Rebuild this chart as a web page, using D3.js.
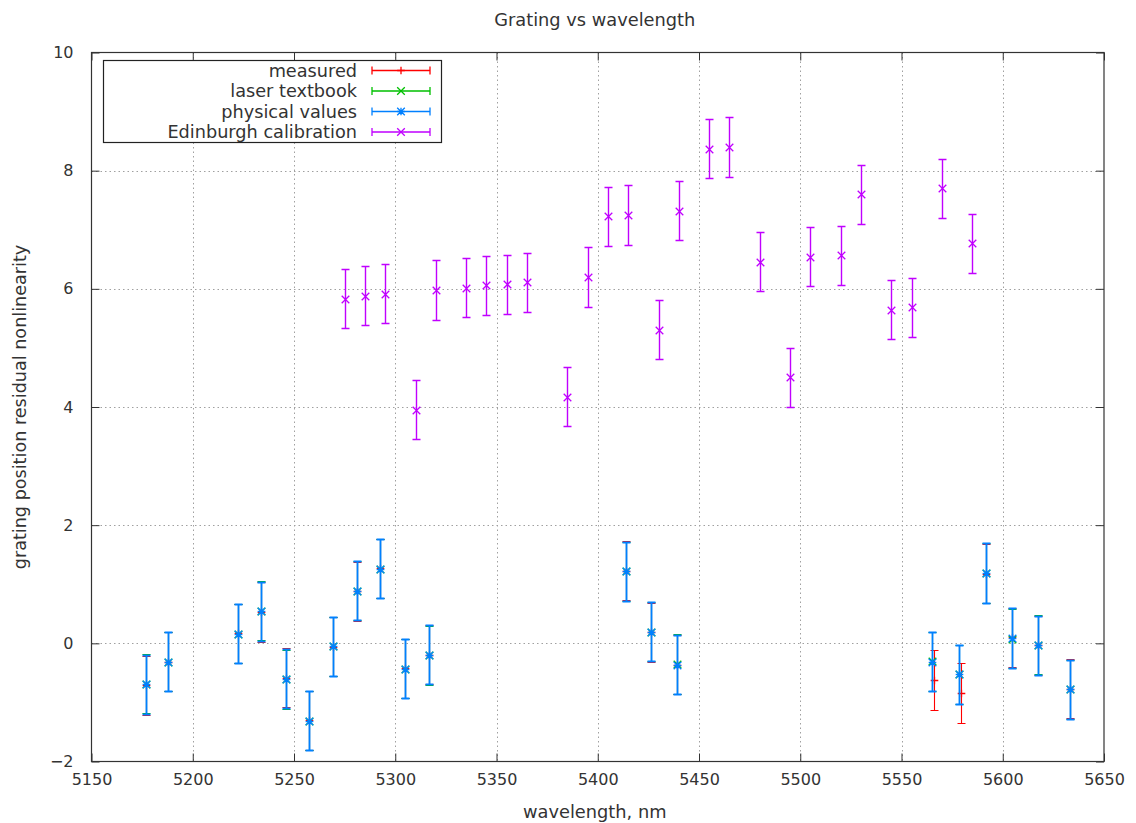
<!DOCTYPE html>
<html>
<head>
<meta charset="utf-8">
<script src="https://cdn.jsdelivr.net/npm/d3@7"></script>
<style>
  body { margin: 0; background: #fff; }
  text { font-family: "DejaVu Sans", sans-serif; fill: #333; }
</style>
</head>
<body>
<div id="chart"></div>
<script>
// lower cluster wavelengths (nm)
const wavelengths = [5176.7, 5188.0, 5222.1, 5233.6, 5245.9, 5257.2, 5269.4, 5280.9, 5292.4, 5304.6,
  5316.7, 5413.8, 5426.4, 5438.9, 5565.2, 5578.4, 5591.5, 5604.6, 5617.3, 5633.2];
const measuredX = [5176.7, 5188.0, 5222.1, 5233.6, 5245.9, 5257.2, 5269.4, 5280.9, 5292.4, 5304.6,
  5316.7, 5413.8, 5426.4, 5438.9, 5566.2, 5579.4, 5591.5, 5604.6, 5617.3, 5633.2];
const measured = [-0.71, -0.31, 0.17, 0.53, -0.58, -1.30, -0.06, 0.88, 1.27, -0.42,
  -0.19, 1.23, 0.19, -0.36, -0.62, -0.84, 1.18, 0.10, -0.03, -0.77];
const laserTextbook = [-0.68, -0.31, 0.16, 0.55, -0.61, -1.31, -0.05, 0.89, 1.26, -0.43,
  -0.20, 1.22, 0.20, -0.35, -0.30, -0.52, 1.19, 0.08, -0.02, -0.78];
const physicalValues = [-0.69, -0.31, 0.16, 0.54, -0.60, -1.31, -0.05, 0.89, 1.26, -0.43,
  -0.19, 1.22, 0.20, -0.36, -0.31, -0.52, 1.19, 0.09, -0.03, -0.78];

// Edinburgh calibration
const edinX = [5275, 5285, 5295, 5310, 5320, 5335, 5345, 5355, 5365, 5385, 5395, 5405, 5415,
  5430, 5440, 5455, 5465, 5480, 5495, 5505, 5520, 5530, 5545, 5555, 5570, 5585];
const edinY = [5.83, 5.88, 5.92, 3.95, 5.98, 6.02, 6.06, 6.08, 6.11, 4.17, 6.20, 7.23, 7.25,
  5.31, 7.32, 8.37, 8.40, 6.46, 4.50, 6.54, 6.57, 7.60, 5.65, 5.69, 7.70, 6.77];

const errHalf = 0.5;  // all error bars are +/- 0.5

const xTicks = [5150, 5200, 5250, 5300, 5350, 5400, 5450, 5500, 5550, 5600, 5650];
const yTicks = [-2, 0, 2, 4, 6, 8, 10];

const series = [
  { name: "measured", xs: measuredX, ys: measured, color: "#ff0000", marker: "plus", lw: 1.1 },
  { name: "laser textbook", xs: wavelengths, ys: laserTextbook, color: "#00c000", marker: "cross", lw: 1.1 },
  { name: "physical values", xs: wavelengths, ys: physicalValues, color: "#0080ff", marker: "star", lw: 1.8 },
  { name: "Edinburgh calibration", xs: edinX, ys: edinY, color: "#c000ff", marker: "cross", lw: 1.4 }
];

const W = 1136, H = 823;
const margin = { top: 52.5, right: 32, bottom: 61.5, left: 91.5 };
const width = W - margin.left - margin.right;
const height = H - margin.top - margin.bottom;

const svg = d3.select("#chart").append("svg")
  .attr("width", W)
  .attr("height", H);

const g = svg.append("g")
  .attr("transform", `translate(${margin.left},${margin.top})`);

const x = d3.scaleLinear().domain([5150, 5650]).range([0, width]);
const y = d3.scaleLinear().domain([-2, 10]).range([height, 0]);

// snap to pixel centres so overlapping series stack cleanly
const px = v => Math.round(v + margin.left) - margin.left + 0.5;
const py = v => Math.round(v + margin.top) - margin.top + 0.5;

// dotted grid
g.append("g").selectAll("line")
  .data(xTicks.slice(1, -1))
  .enter().append("line")
  .attr("x1", d => px(x(d))).attr("x2", d => px(x(d)))
  .attr("y1", 0).attr("y2", height)
  .attr("stroke", "#a0a0a0").attr("stroke-dasharray", "1.5,3");
g.append("g").selectAll("line")
  .data(yTicks.slice(1, -1))
  .enter().append("line")
  .attr("x1", 0).attr("x2", width)
  .attr("y1", d => py(y(d))).attr("y2", d => py(y(d)))
  .attr("stroke", "#a0a0a0").attr("stroke-dasharray", "1.5,3");

function markerPath(type, s) {
  const plus = `M${-s},0H${s}M0,${-s}V${s}`;
  const cross = `M${-s},${-s}L${s},${s}M${-s},${s}L${s},${-s}`;
  if (type === "plus") return plus;
  if (type === "cross") return cross;
  return plus + cross;
}

const cap = 4;
series.forEach(s => {
  const pts = s.xs.map((xv, i) => ({ x: xv, y: s.ys[i] }));
  const grp = g.append("g")
    .attr("stroke", s.color)
    .attr("stroke-width", s.lw)
    .attr("fill", "none");
  const pt = grp.selectAll("g")
    .data(pts)
    .enter().append("g")
    .attr("transform", d => `translate(${px(x(d.x))},0)`);
  pt.append("path")
    .attr("d", d => {
      const y0 = py(y(d.y - errHalf)), y1 = py(y(d.y + errHalf));
      return `M0,${y0}V${y1}M${-cap},${y0}H${cap}M${-cap},${y1}H${cap}`;
    });
  pt.append("path")
    .attr("transform", d => `translate(0,${py(y(d.y))})`)
    .attr("stroke-width", 1.3)
    .attr("d", markerPath(s.marker, 3.8));
});

// axes: inward ticks on all four sides
const tick = 8;
const axBottom = g.append("g")
  .attr("transform", `translate(0,${height})`)
  .call(d3.axisBottom(x).tickValues(xTicks).tickFormat(d3.format("d")).tickSize(-tick).tickPadding(12));
const axLeft = g.append("g")
  .call(d3.axisLeft(y).tickValues(yTicks).tickFormat(d3.format("d")).tickSize(-tick).tickPadding(18));
const axTop = g.append("g")
  .call(d3.axisTop(x).tickValues(xTicks).tickSize(-tick).tickFormat(""));
const axRight = g.append("g")
  .attr("transform", `translate(${width},0)`)
  .call(d3.axisRight(y).tickValues(yTicks).tickSize(-tick).tickFormat(""));

[axBottom, axLeft, axTop, axRight].forEach(a => {
  a.select(".domain").remove();
  a.selectAll("line").attr("stroke", "#333");
  a.selectAll("text").attr("font-size", 16).attr("fill", "#333").attr("font-family", "DejaVu Sans");
});

// frame
g.append("rect")
  .attr("width", width).attr("height", height)
  .attr("fill", "none").attr("stroke", "#333").attr("stroke-width", 1.2);

// legend
const legend = svg.append("g");
legend.append("rect")
  .attr("x", 103.5).attr("y", 60.5).attr("width", 338).attr("height", 82)
  .attr("fill", "#fff").attr("stroke", "#222").attr("stroke-width", 1.2);
series.forEach((s, i) => {
  const ly = 70.5 + i * 20.5;
  legend.append("text")
    .attr("x", 357).attr("y", ly).attr("dy", "0.35em")
    .attr("text-anchor", "end").attr("font-size", 17.7)
    .text(s.name);
  const lg = legend.append("g").attr("stroke", s.color).attr("stroke-width", 1.3).attr("fill", "none");
  lg.append("path")
    .attr("d", `M372,${ly}H430M372,${ly - cap}V${ly + cap}M430,${ly - cap}V${ly + cap}`);
  lg.append("path")
    .attr("transform", `translate(401,${ly})`)
    .attr("d", markerPath(s.marker, 3.8));
});

// titles
svg.append("text")
  .attr("x", margin.left + width / 2 - 3).attr("y", 20).attr("dy", "0.35em")
  .attr("text-anchor", "middle").attr("font-size", 17.8)
  .text("Grating vs wavelength");
svg.append("text")
  .attr("x", margin.left + width / 2 - 3).attr("y", 812).attr("dy", "0.35em")
  .attr("text-anchor", "middle").attr("font-size", 17.8)
  .text("wavelength, nm");
svg.append("text")
  .attr("transform", `translate(20,${margin.top + height / 2}) rotate(-90)`)
  .attr("dy", "0.35em")
  .attr("text-anchor", "middle").attr("font-size", 17.6)
  .text("grating position residual nonlinearity");
</script>
</body>
</html>
